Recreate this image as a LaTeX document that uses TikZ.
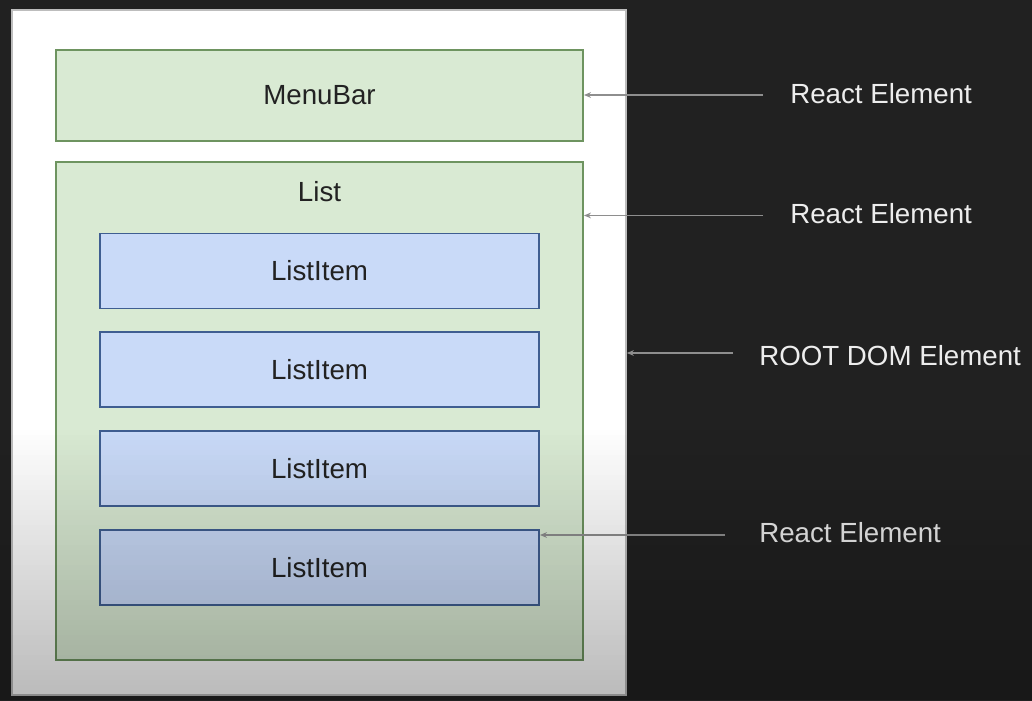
\documentclass[tikz,border=0pt]{standalone}
\usepackage{fontspec}
\setmainfont{Liberation Sans}
\usepackage{xcolor}
\usepackage{tikz}
\usetikzlibrary{arrows.meta}

\definecolor{slidebg}{HTML}{212121}
\definecolor{panelline}{HTML}{BDBDBD}
\definecolor{greenfill}{HTML}{D9EAD3}
\definecolor{greenline}{HTML}{6E9460}
\definecolor{bluefill}{HTML}{C9DAF8}
\definecolor{blueline}{HTML}{3F5E91}
\definecolor{boxtext}{HTML}{222222}
\definecolor{notetext}{HTML}{EDEDED}
\definecolor{pointer}{HTML}{8E8E8E}

\begin{document}
\begin{tikzpicture}[x=0.025cm, y=-0.025cm,
    >={Stealth[length=5pt,width=4pt]},
    every node/.style={font=\fontsize{19.7}{23}\selectfont},
    greenbox/.style={rectangle, draw=greenline, fill=greenfill,
                     line width=1.2pt, text=boxtext},
    bluebox/.style={rectangle, draw=blueline, fill=bluefill,
                    line width=1.2pt, text=boxtext,
                    minimum width=10.975cm, minimum height=1.875cm},
    note/.style={anchor=west, inner sep=0pt, text=notetext}]

    \fill[slidebg] (0,0) rectangle (1032,701);
    \useasboundingbox (0,0) rectangle (1032,701);

    \node[rectangle,
          draw = panelline,
          fill = white,
          line width = 1pt,
          minimum width = 15.35cm,
          minimum height = 17.125cm
          ] (root) at (319,352.5) {};

    \node[greenbox,
          minimum width = 13.175cm,
          minimum height = 2.275cm
          ] (menubar) at (319.5,95.5) {MenuBar};

    \node[greenbox,
          minimum width = 13.175cm,
          minimum height = 12.45cm
          ] (list) at (319.5,411) {};
    \node[text = boxtext] (listtxt) at (319.5,192) {List};

    \node[bluebox] (item1) at (319.5,271) {ListItem};
    \node[bluebox] (item2) at (319.5,369.5) {ListItem};
    \node[bluebox] (item3) at (319.5,468.5) {ListItem};
    \node[bluebox] (item4) at (319.5,567.5) {ListItem};

    % notes on the right
    \node[note] (note1) at (790,94) {React Element};
    \node[note] (note2) at (790,214) {React Element};
    \node[note] (note3) at (759,356) {ROOT DOM Element};
    \node[note] (note4) at (759,533) {React Element};

    \coordinate (s1) at (763,95);
    \coordinate (s2) at (763,215.5);
    \coordinate (s3) at (733,353);
    \coordinate (s4) at (725,535);

    \path[color=pointer, line width=1.4pt]
    (s1) edge [->] (menubar.east |- s1)
    (s2) edge [->] (list.east |- s2)
    (s3) edge [->] (root.east |- s3)
    (s4) edge [->] (item4.east |- s4);

    % darker lower part of the slide
    \foreach \k in {0,...,53}
        \fill[black, opacity=0.005*\k+0.005]
            (0,430+5*\k) rectangle (1032,435+5*\k);

\end{tikzpicture}
\end{document}
